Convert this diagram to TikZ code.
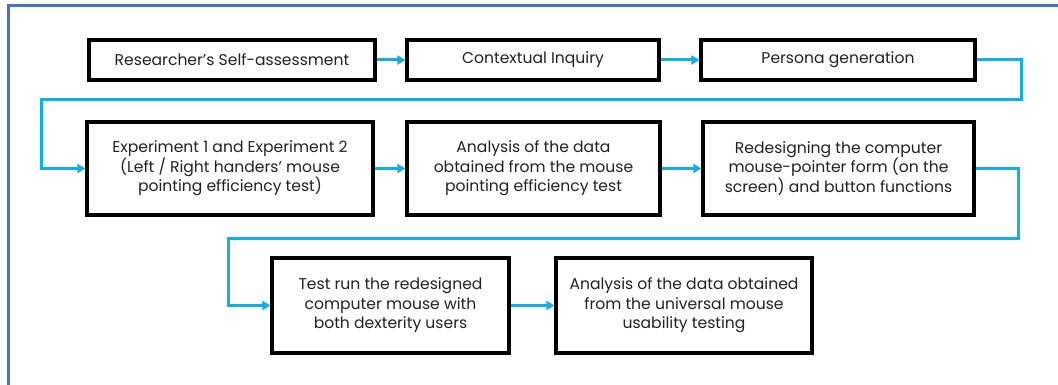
\documentclass[tikz,border=0pt]{standalone}
\usepackage{fontspec}
\setmainfont{Poppins}
\usetikzlibrary{arrows.meta}
\definecolor{framecol}{HTML}{4472C4}
\definecolor{arrcol}{HTML}{12AEE8}
\definecolor{txtcol}{HTML}{222222}
\begin{document}
\begin{tikzpicture}[x=1pt,y=-1pt,
  box/.style={draw=black,line width=3.2pt,fill=white,inner sep=2pt,align=center,
    text=txtcol,font=\fontsize{15.6}{19.5}\selectfont},
  arr/.style={draw=arrcol,line width=3pt,-{Triangle[length=8pt,width=9pt]}}]
\useasboundingbox (0,0) rectangle (1058,385);
\fill[white] (0,0) rectangle (1058,385);
\draw[framecol,line width=3pt] (8,390) -- (8,6) -- (1065,6);
\node[box,minimum width=286,minimum height=40] (b1) at (232,60) {Researcher’s Self-assessment};
\node[box,minimum width=252,minimum height=40] (b2) at (533,60) {Contextual Inquiry};
\node[box,minimum width=274,minimum height=40] (b3) at (838,60) {Persona generation};
\node[box,minimum width=286,minimum height=93] (b4) at (230,168.5) {Experiment 1 and Experiment 2\\(Left / Right handers’ mouse\\pointing efficiency test)};
\node[box,minimum width=253,minimum height=93] (b5) at (533.5,168.5) {Analysis of the data\\obtained from the mouse\\pointing efficiency test};
\node[box,minimum width=271,minimum height=93] (b6) at (838.5,168.5) {Redesigning the computer\\mouse-pointer form (on the\\screen) and button functions};
\node[box,minimum width=237,minimum height=95] (b7) at (390.5,305.5) {Test run the redesigned\\computer mouse with\\both dexterity users};
\node[box,minimum width=256,minimum height=95] (b8) at (684,305.5) {Analysis of the data obtained\\from the universal mouse\\usability testing};
\coordinate (c1) at (1021,100);
\coordinate (c2) at (41,100);
\coordinate (c3) at (1018,238);
\coordinate (c4) at (228,238);
\draw[arr] (b1) -- (b2);
\draw[arr] (b2) -- (b3);
\draw[arr] (b3.east) -| (c1) -- (c2) |- (b4.west);
\draw[arr] (b4) -- (b5);
\draw[arr] (b5) -- (b6);
\draw[arr] (b6.east) -| (c3) -- (c4) |- (b7.west);
\draw[arr] (b7) -- (b8);
\end{tikzpicture}
\end{document}
